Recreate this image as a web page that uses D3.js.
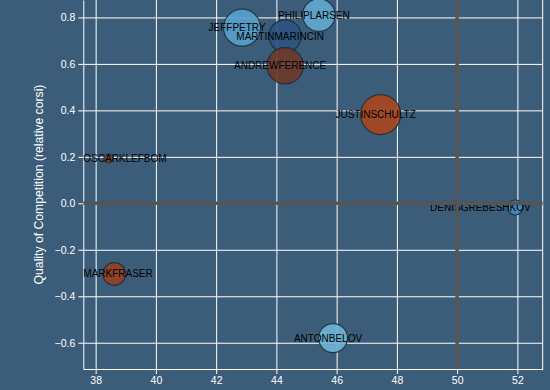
<!DOCTYPE html>
<html>
<head>
<meta charset="utf-8">
<script src="https://cdn.jsdelivr.net/npm/d3@7"></script>
<style>
  html, body { margin: 0; padding: 0; background: #3c5d7a; }
  svg { display: block; font-family: "Liberation Sans", Arial, sans-serif; }
  .axis text { fill: #fff; font-size: 10.5px; }
  .axis path, .axis line { stroke: #fff; }
  .grid line { stroke: #fff; stroke-width: 1; }
  .grid path { display: none; }
</style>
</head>
<body>
<svg id="chart" width="550" height="390"></svg>
<script>
// players and their values
const players = ["JEFFPETRY", "PHILIPLARSEN", "MARTINMARINCIN", "ANDREWFERENCE", "JUSTINSCHULTZ",
                 "OSCARKLEFBOM", "MARKFRASER", "ANTONBELOV", "DENISGREBESHKOV"]
const zoneStarts = [42.86, 45.41, 44.29, 44.29, 47.46, 38.42, 38.62, 45.88, 51.93]
const qualComp   = [0.756, 0.81, 0.72, 0.592, 0.382, 0.193, -0.304, -0.58, -0.018]
const toi        = [342, 266, 262, 331, 400, 20, 128, 210, 56]
const corsiRel   = [0.78, 0.88, 0.05, -0.4, -1, -0.5, -0.8, 1, 0.5]

const xTicks = [38, 40, 42, 44, 46, 48, 50, 52]
const yTicks = [-0.6, -0.4, -0.2, 0, 0.2, 0.4, 0.6, 0.8]

const svg = d3.select('#chart')
const margin = {left: 83.3, top: 0, right: 7.3, bottom: 21}
const width = 550 - margin.left - margin.right
const height = 390 - margin.top - margin.bottom

const data = players.map((p, i) => ({
  name: p, x: zoneStarts[i], y: qualComp[i], size: toi[i], c: corsiRel[i]
}))

const xScale = d3.scaleLinear().domain([37.59, 52.84]).range([0, width])
const yScale = d3.scaleLinear().domain([-0.713, 0.875]).range([height, 0])
const rScale = d3.scaleSqrt().domain([0, d3.max(toi)]).range([0, 20])
const colorScale = d3.scaleLinear()
  .domain([-1, -0.4, 0, 0.5, 1])
  .range(["#a8461e", "#6c3a2a", "#2c4e78", "#3f8abf", "#6cb2d2"])

const chart = svg.append('g')
  .attr('transform', `translate(${margin.left}, ${margin.top})`)

// grid
chart.append('g')
  .attr('class', 'grid')
  .attr('transform', `translate(0, ${height})`)
  .call(d3.axisBottom(xScale).tickValues(xTicks).tickSize(-height).tickFormat(''))
chart.append('g')
  .attr('class', 'grid')
  .call(d3.axisLeft(yScale).tickValues(yTicks).tickSize(-width).tickFormat(''))

// axes
chart.append('g')
  .attr('class', 'axis')
  .attr('transform', `translate(0, ${height})`)
  .call(d3.axisBottom(xScale).tickValues(xTicks).tickSize(5).tickPadding(3).tickSizeOuter(0))
chart.append('g')
  .attr('class', 'axis')
  .call(d3.axisLeft(yScale).tickValues(yTicks).tickSize(5).tickPadding(3).tickSizeOuter(0)
    .tickFormat(d3.format('.1f')))

// right border
chart.append('line')
  .attr('x1', width).attr('x2', width)
  .attr('y1', 0).attr('y2', height)
  .attr('stroke', '#fff')

// bubbles
chart.selectAll('circle.bubble')
  .data(data)
  .enter()
  .append('circle')
  .attr('class', 'bubble')
  .attr('cx', d => xScale(d.x))
  .attr('cy', d => yScale(d.y))
  .attr('r', d => rScale(d.size))
  .attr('fill', d => colorScale(d.c))
  .attr('fill-opacity', 0.92)
  .attr('stroke', '#1c2a38')
  .attr('stroke-opacity', 0.85)
  .attr('stroke-width', 1.2)

// labels, kept inside the plot
const labels = chart.selectAll('text.name')
  .data(data)
  .enter()
  .append('text')
  .attr('class', 'name')
  .attr('y', d => yScale(d.y))
  .attr('dy', '0.35em')
  .attr('font-size', '10px')
  .attr('fill', '#000')
  .text(d => d.name)

labels.each(function(d) {
  let w = this.getComputedTextLength()
  let x0 = xScale(d.x) - 5 - w / 2
  x0 = Math.max(0, Math.min(x0, width - 12 - w))
  d3.select(this).attr('x', x0)
})

// reference lines
chart.append('line')
  .attr('x1', 0).attr('x2', width)
  .attr('y1', yScale(0)).attr('y2', yScale(0))
  .attr('stroke', '#555').attr('stroke-width', 3.5)
chart.append('line')
  .attr('x1', xScale(50)).attr('x2', xScale(50))
  .attr('y1', 0).attr('y2', height)
  .attr('stroke', '#555').attr('stroke-width', 3.5)

// y label
svg.append('text')
  .attr('transform', `translate(43.3, ${margin.top + height / 2}) rotate(-90)`)
  .attr('text-anchor', 'middle')
  .attr('fill', '#fff')
  .attr('font-size', '12.2px')
  .text('Quality of Competition (relative corsi)')
</script>
</body>
</html>
